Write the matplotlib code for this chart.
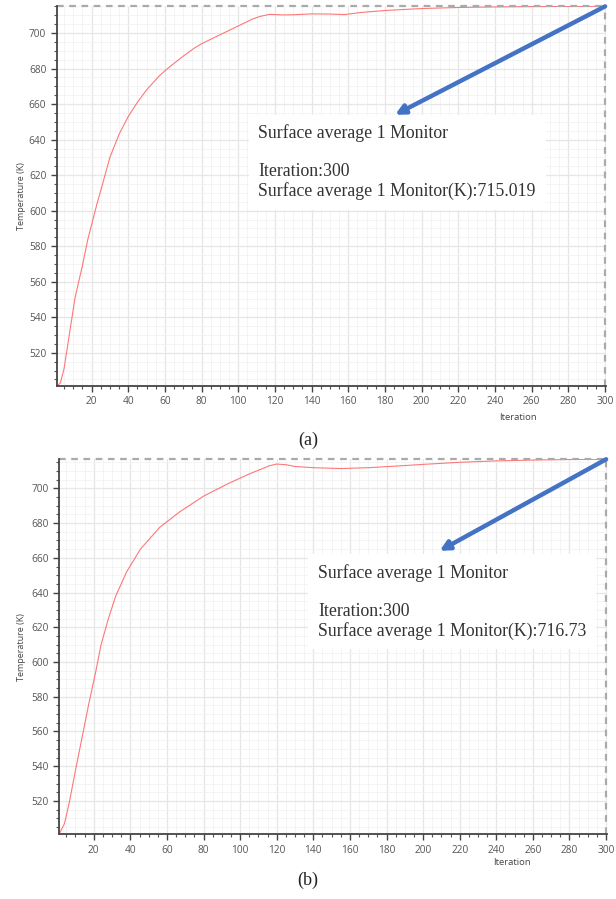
import matplotlib
matplotlib.use('Agg')
import matplotlib.pyplot as plt
from matplotlib.ticker import MultipleLocator

# monitor history, case (a)
iter_a = [1, 3, 5, 8, 11, 15, 18, 23, 26, 30, 35, 40, 45, 50, 57, 62, 70, 76, 80, 88,
          95, 101, 108, 112, 117, 125, 130, 140, 150, 158, 167, 180, 200, 220, 240,
          260, 280, 300]
temp_a = [501, 503, 511, 531, 551, 569, 584, 604, 615, 630, 643, 653, 661, 668, 676,
          680.5, 687, 691.5, 694, 698, 701.5, 704.5, 708, 709.4, 710.5, 710.2, 710.3,
          710.8, 710.7, 710.4, 711.6, 712.7, 713.8, 714.4, 714.7, 714.9, 715.0, 715.019]

# monitor history, case (b)
iter_b = [1, 4, 6.5, 10, 13.7, 17.3, 21, 24, 28, 32, 38, 45.5, 56, 67, 80, 93, 105,
          116, 120, 125, 130, 140, 155, 170, 185, 200, 220, 240, 260, 280, 300]
temp_b = [500.7, 507, 518.5, 537.6, 557, 576, 594, 610, 625, 638, 652, 665, 677.5,
          686.5, 695.5, 702.5, 708.3, 713, 714, 713.6, 712.6, 711.9, 711.4, 711.9,
          712.8, 713.8, 715, 715.8, 716.3, 716.6, 716.73]

labels = ['(a)', '(b)']
final_values = ['715.019', '716.73']

W, H = 616, 899
fig = plt.figure(figsize=(W / 100, H / 100), dpi=100)


def panel(rect, xs, ys, ylim, head, text_xy, value, label_x, label_y, cap, cap_y, pad):
    ax = fig.add_axes(rect)
    ax.plot(xs, ys, color='#ff6060', lw=0.8, alpha=0.85)
    ax.set_xlim(1, 300.5)
    ax.set_ylim(*ylim)
    ax.xaxis.set_major_locator(MultipleLocator(20))
    ax.xaxis.set_minor_locator(MultipleLocator(5))
    ax.yaxis.set_major_locator(MultipleLocator(20))
    ax.yaxis.set_minor_locator(MultipleLocator(5))
    ax.grid(which='major', color='#e6e6e6', lw=0.9)
    ax.grid(which='minor', color='#f2f2f2', lw=0.6)
    ax.set_axisbelow(True)
    for s in ['top', 'right']:
        ax.spines[s].set_visible(False)
    for s in ['left', 'bottom']:
        ax.spines[s].set_color('#444444')
        ax.spines[s].set_linewidth(1.3)
    ax.tick_params(which='major', length=4, width=1, color='#444444',
                   labelsize=7.3, labelcolor='#555555')
    ax.tick_params(which='minor', length=2.5, width=0.8, color='#555555')
    for t in ax.get_xticklabels() + ax.get_yticklabels():
        t.set_family('Open Sans')
    # probe crosshair at the last iteration
    ax.axhline(ys[-1], color='#aaaaaa', lw=1.6, ls=(0, (3, 2.5)), clip_on=False)
    ax.axvline(xs[-1], color='#aaaaaa', lw=1.6, ls=(0, (3, 2.5)), clip_on=False)
    ax.set_ylabel('Temperature (K)', family='Open Sans', fontsize=6.5, color='#444444',
                  labelpad=pad)
    ax.text(label_x, label_y, 'Iteration', transform=ax.transAxes, family='Open Sans',
            fontsize=6.8, color='#444444', ha='center', va='center')
    ax.text(text_xy[0], text_xy[1],
            'Surface average 1 Monitor\n\nIteration:300\n'
            'Surface average 1 Monitor(K):' + value,
            family='Liberation Serif', fontsize=12.8, color='#333333', va='top', ha='left',
            zorder=5, linespacing=1.15,
            bbox=dict(facecolor='white', edgecolor='none', pad=7))
    ax.annotate('', xy=head, xytext=(xs[-1], ys[-1]), zorder=6,
                arrowprops=dict(arrowstyle='-|>', color='#4472c4', lw=3.2,
                                mutation_scale=14, shrinkA=0, shrinkB=0))
    fig.text(308 / W, cap_y, cap, family='Liberation Serif', fontsize=13,
             ha='center', va='center', color='#222222')
    return ax


panel([56.7 / W, 1 - 386 / H, (606 - 56.7) / W, (386 - 5.7) / H],
      iter_a, temp_a, (501.3, 715.4), (185.5, 654), (111, 648.5), final_values[0],
      0.84, -0.082, labels[0], 1 - 440 / H, 2)
panel([59 / W, 1 - 834.3 / H, (607 - 59) / W, (834.3 - 459) / H],
      iter_b, temp_b, (500.8, 716.9), (209, 664), (142.5, 656.5), final_values[1],
      0.827, -0.076, labels[1], 1 - 880 / H, 4)

fig.savefig('out.png', dpi=100)
